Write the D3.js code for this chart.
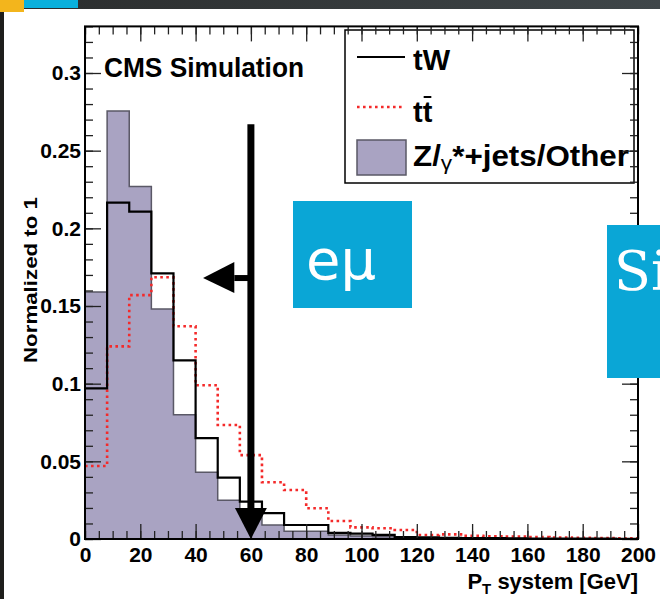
<!DOCTYPE html>
<html>
<head>
<meta charset="utf-8">
<script src="https://cdn.jsdelivr.net/npm/d3@7"></script>
<style>
body { margin: 0; background: #fff; overflow: hidden; }
text { font-family: "Liberation Sans", Arial, sans-serif; font-weight: bold; }
</style>
</head>
<body>
<div id="chart"></div>
<script>
// bins are 8 GeV wide, 0..200
const binEdges = d3.range(0, 201, 8);
const tW    = [0.097, 0.2165, 0.2108, 0.171, 0.115, 0.065, 0.0395, 0.024, 0.0167, 0.009, 0.009, 0.004, 0.0035, 0.0026, 0.0013, 0.001, 0.0008, 0.0006, 0.0005, 0.0004, 0.0003, 0.0003, 0.0002, 0.0002, 0.0001];
const ttbar = [0.047, 0.124, 0.157, 0.1685, 0.137, 0.099, 0.0734, 0.054, 0.0365, 0.0315, 0.0198, 0.0116, 0.0075, 0.0069, 0.0058, 0.0026, 0.003, 0.002, 0.0018, 0.0015, 0.0012, 0.001, 0.0008, 0.0006, 0.0005];
const zjets = [0.159, 0.2755, 0.227, 0.148, 0.080, 0.043, 0.025, 0.017, 0.009, 0.005, 0.005, 0.0026, 0.002, 0.0015, 0.001, 0.0008, 0.0006, 0.0005, 0.0004, 0.0003, 0.0002, 0.0002, 0.0001, 0.0001, 0.0001];
const xTicks = [0, 20, 40, 60, 80, 100, 120, 140, 160, 180, 200];
const yTicks = [0, 0.05, 0.1, 0.15, 0.2, 0.25, 0.3];
const legendLabels = ["tW", "tt", "Z/", "γ", "*+jets/Other"];
// cut arrows, in data units
const cutX = 60, cutTop = 0.267, sideY = 0.168, sideTip = 42.7;

const W = 660, H = 599;
const svg = d3.select("#chart").append("svg")
    .attr("width", W).attr("height", H);

// slide background bits
svg.append("rect").attr("width", W).attr("height", H).attr("fill", "#fff");
const bg = svg.append("defs").append("linearGradient").attr("id", "dark");
bg.append("stop").attr("offset", "0").attr("stop-color", "#2a2c2c");
bg.append("stop").attr("offset", "1").attr("stop-color", "#3f4649");
svg.append("rect").attr("x", 0).attr("y", 0).attr("width", W).attr("height", 9).attr("fill", "url(#dark)");
svg.append("rect").attr("x", 0).attr("y", 0).attr("width", 4).attr("height", H).attr("fill", "#1e1e1c");
svg.append("rect").attr("x", 0).attr("y", 0).attr("width", 24).attr("height", 12).attr("fill", "#f3b51c");
svg.append("rect").attr("x", 24).attr("y", 0).attr("width", 54).attr("height", 8).attr("fill", "#0ab0dc");

const x = d3.scaleLinear().domain([0, 200]).range([85, 638]);
const y = d3.scaleLinear().domain([0, 0.3]).range([539, 73]);
const yTop = y(0.33);

const pts = vals => binEdges.map((e, i) => ({e, v: vals[Math.min(i, vals.length - 1)]}));

// Z/gamma*+jets filled histogram
svg.append("path")
    .datum(pts(zjets))
    .attr("fill", "#a9a3c2")
    .attr("stroke", "#5a5866")
    .attr("stroke-width", 1.5)
    .attr("d", d3.area().curve(d3.curveStepAfter)
        .x(d => x(d.e)).y0(y(0)).y1(d => y(d.v)));

svg.append("path")
    .datum(pts(ttbar))
    .attr("fill", "none")
    .attr("stroke", "#f42a2a")
    .attr("stroke-width", 2.6)
    .attr("stroke-dasharray", "2.6,3.4")
    .attr("d", d3.line().curve(d3.curveStepAfter)
        .x(d => x(d.e)).y(d => y(d.v)));

svg.append("path")
    .datum(pts(tW))
    .attr("fill", "none")
    .attr("stroke", "#000")
    .attr("stroke-width", 2.2)
    .attr("d", d3.line().curve(d3.curveStepAfter)
        .x(d => x(d.e)).y(d => y(d.v)));

// legend
svg.append("rect").attr("x", 345).attr("y", 30).attr("width", 289).attr("height", 153)
    .attr("fill", "#fff").attr("stroke", "#000").attr("stroke-width", 1.5);
svg.append("line").attr("x1", 357).attr("x2", 405).attr("y1", 57).attr("y2", 57)
    .attr("stroke", "#000").attr("stroke-width", 2.2);
svg.append("line").attr("x1", 357).attr("x2", 405).attr("y1", 107).attr("y2", 107)
    .attr("stroke", "#f42a2a").attr("stroke-width", 2.6).attr("stroke-dasharray", "2.6,3.4");
svg.append("rect").attr("x", 357).attr("y", 140).attr("width", 49).attr("height", 35)
    .attr("fill", "#a9a3c2").attr("stroke", "#5a5866").attr("stroke-width", 1.5);
svg.append("text").attr("x", 413).attr("y", 70).attr("font-size", 29).text(legendLabels[0]);
const tt = svg.append("text").attr("x", 413).attr("y", 122).attr("font-size", 29).text(legendLabels[1]);
const ttw = tt.node().getComputedTextLength();
svg.append("line").attr("x1", 413 + ttw / 2 + 1).attr("x2", 413 + ttw - 1)
    .attr("y1", 97).attr("y2", 97).attr("stroke", "#000").attr("stroke-width", 2);
const zl = svg.append("text").attr("x", 413).attr("y", 166).attr("font-size", 29)
    .attr("textLength", 216).attr("lengthAdjust", "spacingAndGlyphs");
zl.append("tspan").text(legendLabels[2]);
zl.append("tspan").attr("font-weight", "normal").attr("font-size", 21).attr("dy", 4).text(legendLabels[3]);
zl.append("tspan").attr("dy", -4).text(legendLabels[4]);

svg.append("text").attr("x", 104).attr("y", 77).attr("font-size", 27)
    .attr("textLength", 200).attr("lengthAdjust", "spacingAndGlyphs").text("CMS Simulation");

// axes, ROOT style ticks on all four sides pointing in
const xMinor = d3.range(0, 201, 5);
const yMinor = d3.range(0, 0.331, 0.01);
const grp = svg.append("g");
grp.append("g").attr("transform", `translate(0,${y(0)})`)
    .call(d3.axisBottom(x).tickValues(xMinor).tickSize(-8).tickFormat(""));
grp.append("g").attr("transform", `translate(0,${y(0)})`)
    .call(d3.axisBottom(x).tickValues(xTicks).tickSize(-15).tickPadding(8).tickFormat(d3.format("d")));
grp.append("g").attr("transform", `translate(0,${yTop})`)
    .call(d3.axisTop(x).tickValues(xMinor).tickSize(-8).tickFormat(""));
grp.append("g").attr("transform", `translate(0,${yTop})`)
    .call(d3.axisTop(x).tickValues(xTicks).tickSize(-15).tickFormat(""));
grp.append("g").attr("transform", `translate(${x(0)},0)`)
    .call(d3.axisLeft(y).tickValues(yMinor).tickSize(-8).tickFormat(""));
grp.append("g").attr("transform", `translate(${x(0)},0)`)
    .call(d3.axisLeft(y).tickValues(yTicks).tickSize(-16).tickPadding(4).tickFormat(d => d === 0 ? "0" : d3.format("")(+d.toFixed(2))));
grp.append("g").attr("transform", `translate(${x(200)},0)`)
    .call(d3.axisRight(y).tickValues(yMinor).tickSize(-8).tickFormat(""));
grp.append("g").attr("transform", `translate(${x(200)},0)`)
    .call(d3.axisRight(y).tickValues(yTicks).tickSize(-16).tickFormat(""));
grp.selectAll(".domain").remove();
grp.selectAll(".tick line").attr("stroke", "#222").attr("stroke-width", 1.3);
grp.selectAll(".tick text").attr("font-size", 21).attr("fill", "#000")
    .style("font-family", "'Liberation Sans', Arial, sans-serif").style("font-weight", "bold");

svg.append("rect").attr("x", x(0)).attr("y", yTop).attr("width", x(200) - x(0)).attr("height", y(0) - yTop)
    .attr("fill", "none").attr("stroke", "#000").attr("stroke-width", 2);

// axis titles
const xt = svg.append("text").attr("x", x(200)).attr("y", 589).attr("text-anchor", "end").attr("font-size", 22);
xt.append("tspan").text("P");
xt.append("tspan").attr("font-size", 15).attr("dy", 5).text("T");
xt.append("tspan").attr("dy", -5).text(" system [GeV]");
svg.append("text").attr("transform", "translate(37,280) rotate(-90)").attr("text-anchor", "middle")
    .attr("font-size", 19).attr("textLength", 166).attr("lengthAdjust", "spacingAndGlyphs").text("Normalized to 1");

// cut arrows
const ar = svg.append("g").attr("fill", "#000");
ar.append("line").attr("x1", x(cutX)).attr("x2", x(cutX)).attr("y1", y(cutTop)).attr("y2", y(0.02))
    .attr("stroke", "#000").attr("stroke-width", 7);
ar.append("path").attr("d", `M${x(cutX) - 16},${y(0.02)} L${x(cutX) + 16},${y(0.02)} L${x(cutX)},${y(0)} Z`);
ar.append("line").attr("x1", x(cutX)).attr("x2", x(54)).attr("y1", y(sideY)).attr("y2", y(sideY))
    .attr("stroke", "#000").attr("stroke-width", 6);
ar.append("path").attr("d", `M${x(54)},${y(sideY) - 16} L${x(54)},${y(sideY) + 15} L${x(sideTip)},${y(sideY)} Z`);

// slide labels
svg.append("rect").attr("x", 293).attr("y", 201).attr("width", 119).attr("height", 107).attr("fill", "#0aa6d6");
svg.append("text").attr("x", 306).attr("y", 279).attr("font-size", 56).attr("fill", "#fff")
    .style("font-weight", "normal").style("font-family", "'DejaVu Sans', sans-serif").text("eμ");
svg.append("rect").attr("x", 607).attr("y", 225).attr("width", 60).attr("height", 153).attr("fill", "#0aa6d6");
svg.append("text").attr("x", 614).attr("y", 290).attr("font-size", 54).attr("fill", "#fff")
    .style("font-weight", "normal").style("font-family", "'DejaVu Serif', serif").text("Si");
</script>
</body>
</html>
